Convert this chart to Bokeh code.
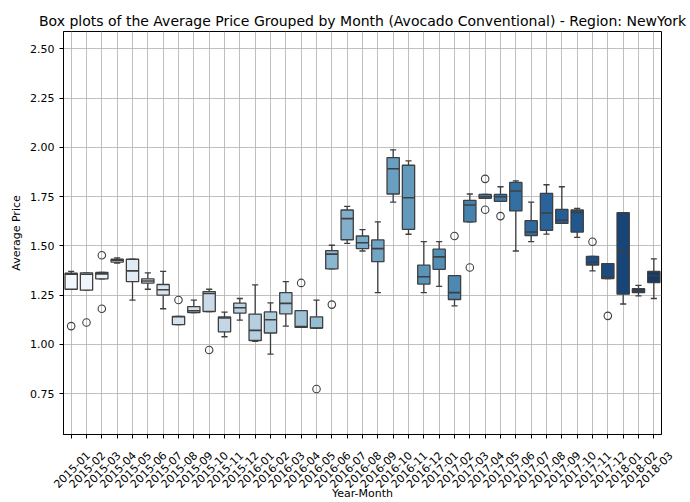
import colorsys
import numpy as np
from bokeh.plotting import figure
from bokeh.models import Range1d, FixedTicker, ColumnDataSource
from bokeh.embed import file_html
from bokeh.resources import INLINE

months = ["2015-01", "2015-02", "2015-03", "2015-04", "2015-05", "2015-06", "2015-07",
          "2015-08", "2015-09", "2015-10", "2015-11", "2015-12", "2016-01", "2016-02",
          "2016-03", "2016-04", "2016-05", "2016-06", "2016-07", "2016-08", "2016-09",
          "2016-10", "2016-11", "2016-12", "2017-01", "2017-02", "2017-03", "2017-04",
          "2017-05", "2017-06", "2017-07", "2017-08", "2017-09", "2017-10", "2017-11",
          "2017-12", "2018-01", "2018-02", "2018-03"]

whisker_low = [1.280, 1.275, 1.333, 1.413, 1.225, 1.280, 1.181, 1.100, 1.162, 1.167,
               1.039, 1.123, 1.015, 0.951, 1.093, 1.086, 1.083, 1.383, 1.513, 1.474,
               1.263, 1.722, 1.559, 1.263, 1.294, 1.196, 1.622, 1.741, 1.726, 1.474,
               1.521, 1.560, 1.614, 1.543, 1.373, 1.334, 1.205, 1.246, 1.233]
q1 = [1.280, 1.275, 1.333, 1.418, 1.319, 1.311, 1.250, 1.100, 1.162, 1.167,
      1.064, 1.159, 1.020, 1.058, 1.155, 1.086, 1.083, 1.383, 1.531, 1.486,
      1.420, 1.763, 1.584, 1.306, 1.381, 1.228, 1.622, 1.741, 1.726, 1.677,
      1.552, 1.579, 1.614, 1.570, 1.403, 1.334, 1.255, 1.263, 1.314]
median = [1.356, 1.356, 1.358, 1.427, 1.373, 1.322, 1.277, 1.140, 1.171, 1.258,
          1.134, 1.186, 1.071, 1.125, 1.208, 1.091, 1.083, 1.458, 1.638, 1.516,
          1.486, 1.891, 1.744, 1.343, 1.444, 1.263, 1.707, 1.749, 1.749, 1.778,
          1.570, 1.667, 1.630, 1.670, 1.417, 1.341, 1.474, 1.273, 1.348]
q3 = [1.361, 1.363, 1.365, 1.432, 1.432, 1.333, 1.304, 1.142, 1.192, 1.268,
      1.139, 1.209, 1.154, 1.165, 1.263, 1.171, 1.140, 1.476, 1.682, 1.550,
      1.530, 1.948, 1.909, 1.402, 1.483, 1.349, 1.731, 1.761, 1.761, 1.822,
      1.628, 1.766, 1.685, 1.682, 1.446, 1.410, 1.668, 1.283, 1.370]
whisker_high = [1.371, 1.363, 1.365, 1.439, 1.432, 1.363, 1.371, 1.142, 1.225, 1.280,
                1.164, 1.233, 1.302, 1.211, 1.319, 1.171, 1.225, 1.503, 1.700, 1.582,
                1.622, 1.987, 1.931, 1.521, 1.521, 1.349, 1.763, 1.761, 1.800, 1.830,
                1.722, 1.810, 1.800, 1.690, 1.446, 1.410, 1.668, 1.300, 1.434]

outlier_month = ["2015-01", "2015-02", "2015-03", "2015-03", "2015-08", "2015-10",
                 "2016-04", "2016-05", "2016-06", "2017-02", "2017-03", "2017-04",
                 "2017-04", "2017-05", "2017-11", "2017-12"]
outlier_value = [1.093, 1.111, 1.452, 1.181, 1.225, 0.972,
                 1.312, 0.774, 1.202, 1.550, 1.390, 1.840,
                 1.683, 1.651, 1.521, 1.145]

y_ticks = [0.75, 1.00, 1.25, 1.50, 1.75, 2.00, 2.25, 2.50]

title = "Box plots of the Average Price Grouped by Month (Avocado Conventional) - Region: NewYork"
x_title = "Year-Month"
y_title = "Average Price"

# Blues colormap anchors (ColorBrewer), sampled like seaborn and desaturated 0.75
blues_anchor = ["#f7fbff", "#deebf7", "#c6dbef", "#9ecae1", "#6baed6",
                "#4292c6", "#2171b5", "#08519c", "#08306b"]


def hex2rgb(h):
    return [int(h[i:i + 2], 16) / 255 for i in (1, 3, 5)]


anc = np.array([hex2rgb(h) for h in blues_anchor])
n = len(months)
pos = np.linspace(0, 1, n + 2)[1:-1]
grid_pts = np.linspace(0, 1, len(blues_anchor))
colors = []
for t in pos:
    rgb = [np.interp(t, grid_pts, anc[:, k]) for k in range(3)]
    h, l, s = colorsys.rgb_to_hls(*rgb)
    r, g, b = colorsys.hls_to_rgb(h, l, s * 0.75)
    colors.append("#%02x%02x%02x" % (int(round(r * 255)), int(round(g * 255)), int(round(b * 255))))

xs = list(range(n))
box_w = 0.8
cap_w = 0.4

W, H = 690, 502
Y0, Y1 = 0.543, 2.5875

src = ColumnDataSource(dict(
    x=xs, q1=q1, q3=q3, med=median, lo=whisker_low, hi=whisker_high, color=colors,
    bx0=[x - box_w / 2 for x in xs], bx1=[x + box_w / 2 for x in xs],
    cx0=[x - cap_w / 2 for x in xs], cx1=[x + cap_w / 2 for x in xs],
))
out_src = ColumnDataSource(dict(
    x=[months.index(m) for m in outlier_month], y=outlier_value))

p = figure(width=W, height=H, output_backend="svg", toolbar_location=None,
           x_range=Range1d(-0.5, n - 0.5), y_range=Range1d(Y0, Y1),
           title=title, min_border_left=63, min_border_right=29,
           min_border_top=31, min_border_bottom=67)

p.title.text_font = "DejaVu Sans"
p.title.text_font_size = "14px"
p.title.text_font_style = "normal"
p.title.text_color = "black"
p.title.align = "center"
p.title.standoff = 6

edge = "#3f3f3f"
p.segment(x0="x", x1="x", y0="q3", y1="hi", source=src, line_color=edge, line_width=1.3)
p.segment(x0="x", x1="x", y0="lo", y1="q1", source=src, line_color=edge, line_width=1.3)
p.segment(x0="cx0", x1="cx1", y0="hi", y1="hi", source=src, line_color=edge, line_width=1.3)
p.segment(x0="cx0", x1="cx1", y0="lo", y1="lo", source=src, line_color=edge, line_width=1.3)
p.vbar(x="x", width=box_w, bottom="q1", top="q3", source=src, fill_color="color",
       line_color=edge, line_width=1.3)
p.segment(x0="bx0", x1="bx1", y0="med", y1="med", source=src, line_color=edge, line_width=1.6)
p.scatter(x="x", y="y", source=out_src, marker="circle", size=7.5, fill_color=None,
          line_color=edge, line_width=1.1)

# x tick labels: rotated 45 degrees; leading blank lines push each label so that it is
# centred under its tick (matplotlib style) instead of ending at the tick.
p.xaxis.ticker = FixedTicker(ticks=xs)
p.xaxis.major_label_overrides = {i: "\n\n\n" + m for i, m in enumerate(months)}
p.xaxis.major_label_orientation = np.pi / 4
p.xaxis.major_label_text_line_height = 1.25
p.xaxis.major_label_standoff = -2
p.xaxis.axis_label = x_title
p.xaxis.axis_label_standoff = -29

p.yaxis.ticker = FixedTicker(ticks=y_ticks)
p.yaxis.major_label_overrides = {v: "%.2f" % v for v in y_ticks}
p.yaxis.axis_label = y_title
p.yaxis.major_label_standoff = 5
p.yaxis.axis_label_standoff = 4

for ax in (p.xaxis, p.yaxis):
    ax.axis_label_text_font = "DejaVu Sans"
    ax.axis_label_text_font_size = "11px"
    ax.axis_label_text_font_style = "normal"
    ax.axis_label_text_color = "black"
    ax.major_label_text_font = "DejaVu Sans"
    ax.major_label_text_font_size = "11px"
    ax.major_label_text_color = "black"
    ax.major_tick_out = 4
    ax.major_tick_in = 0
    ax.minor_tick_line_color = None
    ax.axis_line_color = "black"
    ax.major_tick_line_color = "black"

p.xgrid.grid_line_color = "#b0b0b0"
p.ygrid.grid_line_color = "#b0b0b0"
p.xgrid.grid_line_width = 0.8
p.ygrid.grid_line_width = 0.8
p.outline_line_color = "black"
p.outline_line_width = 1
p.outline_line_alpha = 1
p.background_fill_color = "white"
p.border_fill_color = "white"

open("out.html", "w").write(file_html(p, INLINE))
